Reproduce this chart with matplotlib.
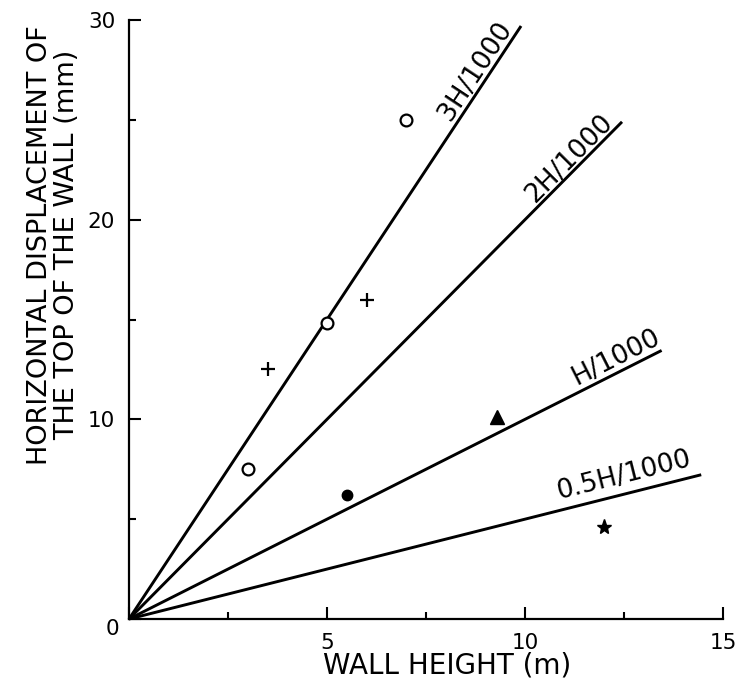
import numpy as np
import matplotlib
matplotlib.use("Agg")
import matplotlib.pyplot as plt

# reference lines: displacement = k * H / 1000 (mm, H in m), drawn from the origin
line_labels = ["3H/1000", "2H/1000", "H/1000", "0.5H/1000"]
line_ratio = [3.0, 2.0, 1.0, 0.5]
line_end = [9.9, 12.45, 13.45, 14.45]      # wall height where each line stops (m)
label_at = [9.03, 11.32, 12.47, 12.6]      # label position along each line (m)
label_gap = [9.5, 8.0, 10.0, 13.0]         # label distance above the line (pt)

# measured walls, one marker style per case
circle_h = [3.0, 5.0, 7.0]
circle_d = [7.5, 14.8, 25.0]
plus_h = [3.5, 6.0]
plus_d = [12.5, 16.0]
dot_h = [5.5]
dot_d = [6.2]
tri_h = [9.3]
tri_d = [10.1]
star_h = [12.0]
star_d = [4.6]

xticks = [0, 5, 10, 15]
xminor = [2.5, 7.5, 12.5]
yticks = [0, 10, 20, 30]
yminor = [5, 15, 25]

W, H = 737, 692
fig = plt.figure(figsize=(W / 100, H / 100), dpi=100)
ax = fig.add_axes([129 / W, 73 / H, 594 / W, 599 / H])
ax.set_xlim(0, 15)
ax.set_ylim(0, 30)

for k, xe in zip(line_ratio, line_end):
    xs = np.array([0.0, xe])
    ax.plot(xs, k * xs, color="black", lw=2.1, solid_capstyle="butt", clip_on=False)

ax.plot(circle_h, circle_d, "o", ms=8.5, mfc="white", mec="black", mew=1.6, clip_on=False)
ax.plot(plus_h, plus_d, "+", ms=10, mec="black", mew=1.6, clip_on=False)
ax.plot(dot_h, dot_d, "o", ms=7.5, color="black", clip_on=False)
ax.plot(tri_h, tri_d, "^", ms=10, color="black", clip_on=False)
ax.plot(star_h, star_d, "*", ms=11, color="black", clip_on=False)

# labels ride on the lines, rotated to their on-screen slope
p0 = ax.transData.transform((0, 0))
for lab, k, xa, gap in zip(line_labels, line_ratio, label_at, label_gap):
    p1 = ax.transData.transform((1, k))
    ang = np.arctan2(p1[1] - p0[1], p1[0] - p0[0])
    off = (-np.sin(ang) * gap, np.cos(ang) * gap)
    ax.annotate(lab, xy=(xa, k * xa), xytext=off, textcoords="offset points",
                ha="center", va="center", rotation=np.degrees(ang),
                rotation_mode="anchor", fontsize=19)

for s in ("top", "right"):
    ax.spines[s].set_visible(False)
for s in ("left", "bottom"):
    ax.spines[s].set_linewidth(1.6)

ax.set_xticks(xticks)
ax.set_xticks(xminor, minor=True)
ax.set_yticks(yticks)
ax.set_yticks(yminor, minor=True)
ax.set_xticklabels([str(t) if t else "" for t in xticks])
ax.set_yticklabels([str(t) if t else "" for t in yticks])
ax.tick_params(which="both", direction="in", width=1.5, labelsize=15.5)
ax.tick_params(which="major", length=8.5)
ax.tick_params(which="minor", length=5)
ax.tick_params(axis="x", pad=10)
ax.tick_params(axis="y", pad=10)
# shared zero at the corner
ax.annotate("0", xy=(0, 0), xytext=(-12, -7), textcoords="offset points",
            ha="center", va="center", fontsize=15.5)

ax.set_xlabel("WALL HEIGHT (m)", fontsize=20)
ax.xaxis.label.set_va("center")
ax.xaxis.set_label_coords(0.535, -0.077)
ax.set_ylabel("HORIZONTAL DISPLACEMENT OF\nTHE TOP OF THE WALL (mm)", fontsize=19.5,
              linespacing=1.05)
ax.yaxis.label.set_va("center")
ax.yaxis.set_label_coords(-0.127, 0.624)

fig.savefig("out.png", dpi=100)
